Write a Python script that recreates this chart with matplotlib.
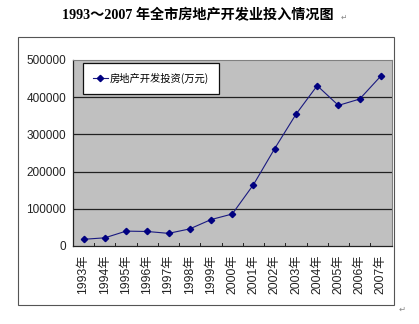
import numpy as np
import matplotlib.pyplot as plt
from matplotlib.patches import Rectangle

plt.rcParams['font.family'] = ['Liberation Sans', 'Noto Sans CJK SC']

years = ['1993年', '1994年', '1995年', '1996年', '1997年', '1998年', '1999年', '2000年',
         '2001年', '2002年', '2003年', '2004年', '2005年', '2006年', '2007年']
invest = [18000, 22000, 40000, 39000, 34000, 46000, 71000, 86000,
          165000, 262000, 354000, 431000, 378000, 395000, 457000]
yticks = [0, 100000, 200000, 300000, 400000, 500000]
series_name = '房地产开发投资(万元)'
title = '1993～2007 年全市房地产开发业投入情况图'

W, H = 419, 324
fig = plt.figure(figsize=(W / 100, H / 100), dpi=100)
fig.patch.set_facecolor('white')

# outer chart border
fig.patches.append(Rectangle((18 / W, 1 - 305 / H), (394 - 18) / W, (305 - 37) / H,
                             transform=fig.transFigure, fill=False,
                             edgecolor='#555555', linewidth=0.8))

ax = fig.add_axes([73 / W, 1 - 246 / H, (391.5 - 73) / W, (246 - 60) / H])
ax.set_facecolor('#c0c0c0')

x = np.arange(len(years))
ax.plot(x, invest, color='#1a1a80', linewidth=0.8, marker='D', markersize=3.2,
        markerfacecolor='#000080', markeredgecolor='#000080', zorder=3)

ax.set_xlim(-0.5, len(years) - 0.5)
ax.set_ylim(0, 500000)
ax.set_yticks(yticks)
ax.set_yticklabels([str(v) for v in yticks], fontsize=8.5, color='#222222')
ax.tick_params(axis='y', length=0, pad=5)
for v in yticks[1:-1]:
    ax.axhline(v, color='#222222', linewidth=0.9, zorder=1)

ax.set_xticks(x)
ax.set_xticklabels(years, rotation=90, fontsize=8.8, color='#222222',
                   family=['Liberation Sans', 'Noto Sans CJK SC'])
ax.tick_params(axis='x', length=0, pad=6)
# boundary tick marks pointing inward
for b in np.arange(-0.5, len(years), 1.0)[1:]:
    ax.plot([b, b], [0, 7000], color='#222222', linewidth=0.7, zorder=2, clip_on=False)

for side in ['top', 'right']:
    ax.spines[side].set_color('#808080')
    ax.spines[side].set_linewidth(0.8)
for side in ['left', 'bottom']:
    ax.spines[side].set_color('#222222')
    ax.spines[side].set_linewidth(0.9)

# legend box
leg = ax.legend([series_name], loc='upper left', bbox_to_anchor=(0.031, 0.984),
                frameon=True, fancybox=False, handlelength=1.5, handletextpad=0.15,
                borderpad=0.95, borderaxespad=0,
                prop={'family': ['Noto Sans CJK SC'], 'size': 7.4})
leg.get_frame().set_edgecolor('#111111')
leg.get_frame().set_linewidth(0.9)
leg.get_frame().set_facecolor('white')
leg.get_frame().set_alpha(1)

fig.text(198 / W, 1 - 15 / H, title, ha='center', va='center', fontsize=10.2,
         fontweight='bold', family=['Liberation Serif', 'Noto Sans CJK SC'])
fig.text(341 / W, 1 - 17 / H, '↵', fontsize=5.5, color='#888888', va='center',
         family=['DejaVu Sans'])
fig.text(399 / W, 1 - 309 / H, '↵', fontsize=6, color='#888888', va='center',
         family=['DejaVu Sans'])

fig.savefig('out.png', dpi=100)
